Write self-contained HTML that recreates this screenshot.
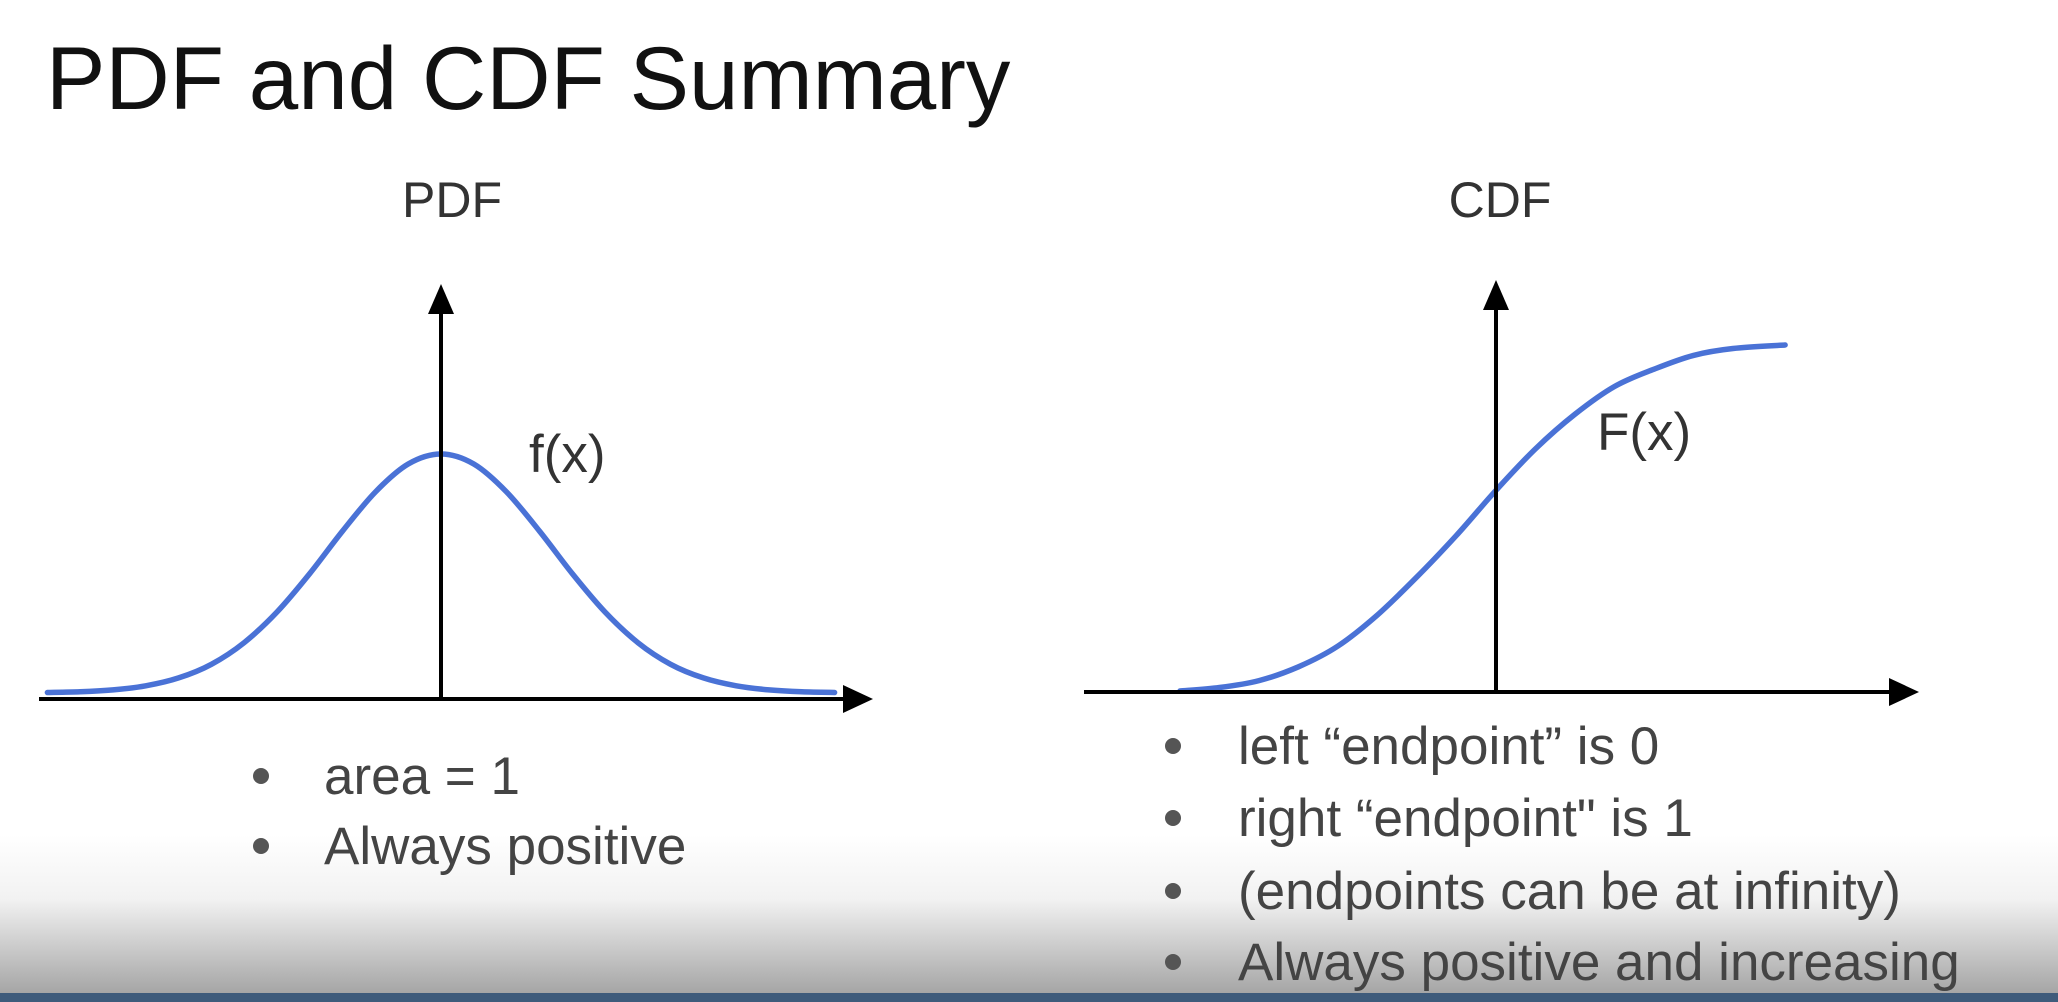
<!DOCTYPE html>
<html><head><meta charset="utf-8"><style>
html,body{margin:0;padding:0;background:#fff;}
svg{display:block;font-family:"Liberation Sans",Arial,sans-serif;}
</style></head><body>
<svg id="root" width="2058" height="1002" viewBox="0 0 2058 1002">
<defs>
<linearGradient id="bg" x1="0" y1="0" x2="0" y2="1">
<stop offset="0" stop-color="#ffffff"/><stop offset="0.4" stop-color="#f2f2f2"/><stop offset="1" stop-color="#a4a4a4"/>
</linearGradient>
</defs>
<rect x="0" y="0" width="2058" height="1002" fill="#fff"/>
<rect x="0" y="835" width="2058" height="160" fill="url(#bg)"/>
<rect x="0" y="993" width="2058" height="9" fill="#3e5b7b"/>
<text x="46" y="109" font-size="89" fill="#111">PDF and CDF Summary</text>

<text x="452" y="217" font-size="50" fill="#333" text-anchor="middle">PDF</text>
<text x="1500" y="217" font-size="50" fill="#333" text-anchor="middle">CDF</text>

<g id="pdf"></g>
<g id="cdf"></g>

<text x="529" y="472" font-size="53" fill="#333">f(x)</text>
<text x="1597" y="450" font-size="53" fill="#333">F(x)</text>

<g font-size="53" fill="#444">
<circle cx="261" cy="776" r="8" fill="#555"/>
<text x="324" y="794">area = 1</text>
<circle cx="261" cy="846" r="8" fill="#555"/>
<text x="324" y="864">Always positive</text>
<circle cx="1173" cy="746" r="8" fill="#555"/>
<text x="1238" y="764">left “endpoint” is 0</text>
<circle cx="1173" cy="818" r="8" fill="#555"/>
<text x="1238" y="836">right “endpoint" is 1</text>
<circle cx="1173" cy="891" r="8" fill="#555"/>
<text x="1238" y="909">(endpoints can be at infinity)</text>
<circle cx="1173" cy="962" r="8" fill="#555"/>
<text x="1238" y="980">Always positive and increasing</text>
</g>
</svg>
<script>
const pdfX = [-3, -2.75, -2.5, -2.25, -2, -1.75, -1.5, -1.25, -1, -0.75, -0.5, -0.25, 0, 0.25, 0.5, 0.75, 1, 1.25, 1.5, 1.75, 2, 2.25, 2.5, 2.75, 3];
const pdfY = [0.002, 0.005, 0.013, 0.03, 0.063, 0.12, 0.211, 0.339, 0.5, 0.678, 0.841, 0.958, 1, 0.958, 0.841, 0.678, 0.5, 0.339, 0.211, 0.12, 0.063, 0.03, 0.013, 0.005, 0.002];
const cdfX = [-4, -3.5, -3, -2.5, -2, -1.5, -1, -0.5, 0, 0.5, 1, 1.5, 2, 2.5, 3, 3.66];
const cdfY = [0, 0.01, 0.03, 0.07, 0.13, 0.22, 0.33, 0.45, 0.58, 0.70, 0.80, 0.88, 0.93, 0.97, 0.99, 1.0];

const NS = 'http://www.w3.org/2000/svg';
function mk(tag, attrs, parent){const e=document.createElementNS(NS,tag);for(const k in attrs)e.setAttribute(k,attrs[k]);parent.appendChild(e);return e;}
function smooth(pts){
  let d='M'+pts[0][0]+' '+pts[0][1];
  for(let i=0;i<pts.length-1;i++){
    const p0=pts[Math.max(0,i-1)],p1=pts[i],p2=pts[i+1],p3=pts[Math.min(pts.length-1,i+2)];
    const c1=[p1[0]+(p2[0]-p0[0])/6,p1[1]+(p2[1]-p0[1])/6];
    const c2=[p2[0]-(p3[0]-p1[0])/6,p2[1]-(p3[1]-p1[1])/6];
    d+=' C'+c1[0].toFixed(1)+' '+c1[1].toFixed(1)+' '+c2[0].toFixed(1)+' '+c2[1].toFixed(1)+' '+p2[0].toFixed(1)+' '+p2[1].toFixed(1);
  }
  return d;
}
function axes(g, ox, oy, xl, xr, yt){
  const xa=mk('line',{x1:xl,y1:oy,x2:xr-20,y2:oy,stroke:'#000','stroke-width':4},g);
  
  
  const xh=mk('polygon',{points:(xr)+','+oy+' '+(xr-30)+','+(oy-14)+' '+(xr-30)+','+(oy+14),fill:'#000'},g);
  
  
  const ya=mk('line',{x1:ox,y1:oy,x2:ox,y2:yt+20,stroke:'#000','stroke-width':4},g);
  
  
  const yh=mk('polygon',{points:ox+','+yt+' '+(ox-13)+','+(yt+30)+' '+(ox+13)+','+(yt+30),fill:'#000'},g);
  
  
}
// PDF
const pg=document.getElementById('pdf');
const pxS=v=>441+v*131.2, pyS=v=>693-v*239;
const pc=mk('path',{d:smooth(pdfX.map((x,i)=>[pxS(x),pyS(pdfY[i])])),fill:'none',stroke:'#4a72d6','stroke-width':5.5,'stroke-linecap':'round'},pg);


axes(pg,441,699,39,873,284);
// CDF
const cg=document.getElementById('cdf');
const cxS=v=>1496+v*79, cyS=v=>691-v*346;
const cc=mk('path',{d:smooth(cdfX.map((x,i)=>[cxS(x),cyS(cdfY[i])])),fill:'none',stroke:'#4a72d6','stroke-width':5.5,'stroke-linecap':'round'},cg);


axes(cg,1496,692,1084,1919,280);
</script>
</body></html>
